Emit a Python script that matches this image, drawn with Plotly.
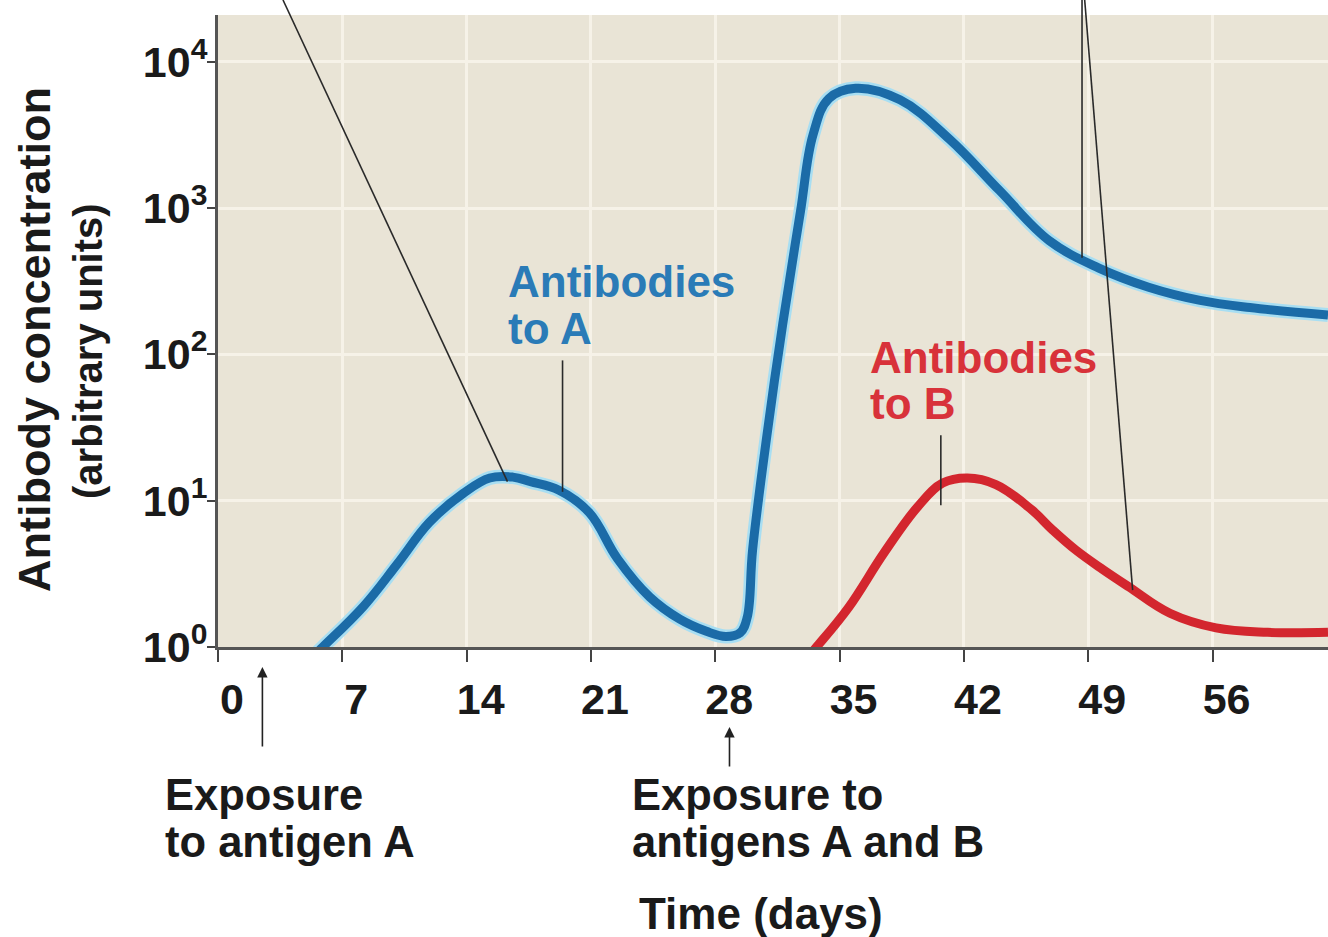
import math
import plotly.graph_objects as go

# ---- data: antibody concentration (arbitrary units) vs time (days) ----
days_a = [5.3, 5.9, 8.2, 10.1, 11.9, 13.8, 15.3, 16.6, 17.6, 19.2, 20.9, 22.5, 24.3,
          26.0, 27.5, 28.6, 29.4, 29.8, 30.1, 30.9, 31.8, 32.8, 33.5, 34.4, 35.9,
          38.4, 41.2, 44.0, 46.8, 49.6, 52.4, 55.3, 58.1, 62.5]
conc_a = [0.85, 1.0, 1.9, 3.7, 7.1, 11.2, 14.3, 14.5, 13.5, 11.8, 8.3, 4.0, 2.2,
          1.55, 1.28, 1.18, 1.25, 1.6, 4.6, 27.5, 162, 955, 3160, 5620, 6600,
          5500, 2950, 1320, 600, 389, 288, 234, 209, 186]

days_b = [33.2, 33.7, 35.5, 37.5, 39.4, 40.8, 42.2, 43.8, 45.8, 47.0, 48.3, 49.8,
          51.3, 53.6, 56.2, 59.1, 62.5]
conc_b = [0.85, 1.0, 1.86, 4.4, 9.1, 13.2, 14.3, 12.9, 8.7, 6.3, 4.6, 3.4,
          2.57, 1.7, 1.35, 1.26, 1.26]

x_ticks = [0, 7, 14, 21, 28, 35, 42, 49, 56]
y_ticks = [1, 10, 100, 1000, 10000]
y_ticktext = ["10<sup>0</sup>", "10<sup>1</sup>", "10<sup>2</sup>",
              "10<sup>3</sup>", "10<sup>4</sup>"]

# exposure days and callout targets (day, concentration)
exposure_days = [2.5, 28.8]
callouts = [
    # ((top day, top level or None for the page edge), (target day, target conc))
    ((3.66, None), (16.3, 13.5)),
    ((19.4, 91.0), (19.4, 11.5)),
    ((48.65, None), (48.65, 457)),
    ((48.8, None), (51.5, 2.45)),
    ((40.7, 28.0), (40.7, 9.3)),
]

# ---- layout geometry ----
W, H = 1328, 937
ML, MR, MT, MB = 218, 0, 15, 290
PW, PH = W - ML - MR, H - MT - MB
X_MAX = 62.5
LOG_MAX = 4.32

FONT = "Liberation Sans, Arial, sans-serif"
BLUE = "#1b6ba7"
BLUE_TXT = "#2a7bb7"
RED = "#d3262e"
RED_TXT = "#d8323a"
INK = "#1a1a1a"


def px_x(p):
    return (p - ML) / PW


def px_y(p):
    return (H - MB - p) / PH


def day_x(d):
    return d / X_MAX


def val_y(v):
    return math.log10(v) / LOG_MAX


fig = go.Figure()

line_shape = dict(shape="spline", smoothing=1.1)

# soft light edge round the blue curve, then the curves
fig.add_trace(go.Scatter(x=days_a, y=conc_a, mode="lines",
                         line=dict(color="#a8def2", width=14, **line_shape),
                         hoverinfo="skip", showlegend=False))
fig.add_trace(go.Scatter(x=days_a, y=conc_a, mode="lines",
                         line=dict(color=BLUE, width=9, **line_shape),
                         name="Antibodies to A", showlegend=False))
fig.add_trace(go.Scatter(x=days_b, y=conc_b, mode="lines",
                         line=dict(color=RED, width=9, **line_shape),
                         name="Antibodies to B", showlegend=False))

# callout lines
shapes = []
top_y = px_y(0)
for (tday, tlev), (dday, dval) in callouts:
    y0 = top_y if tlev is None else val_y(tlev)
    shapes.append(dict(type="line", xref="paper", yref="paper",
                       x0=day_x(tday), y0=y0, x1=day_x(dday), y1=val_y(dval),
                       line=dict(color="#2a2a2a", width=1.6), layer="above"))

annotations = []


def label(text, x, y, size, color=INK, xanchor="left", angle=0):
    annotations.append(dict(text=text, x=x, y=y, xref="paper", yref="paper",
                            xanchor=xanchor, yanchor="middle", showarrow=False,
                            textangle=angle,
                            font=dict(family=FONT, size=size, color=color, weight="bold")))


# curve labels
label("Antibodies", px_x(506), px_y(281), 44, BLUE_TXT)
label("to A", px_x(506), px_y(328), 44, BLUE_TXT)
label("Antibodies", px_x(868), px_y(357), 44, RED_TXT)
label("to B", px_x(868), px_y(404), 44, RED_TXT)

# exposure notes
label("Exposure", px_x(163), px_y(795), 43.5)
label("to antigen A", px_x(163), px_y(842), 43.5)
label("Exposure to", px_x(630), px_y(795), 43.5)
label("antigens A and B", px_x(630), px_y(842), 43.5)

# axis titles
label("Time (days)", px_x(761), px_y(913), 44, xanchor="center")
label("Antibody concentration", px_x(34), px_y(340), 45, xanchor="center", angle=-90)
label("(arbitrary units)", px_x(88), px_y(351), 40, xanchor="center", angle=-90)

# exposure arrows
for d, tip, tail in zip(exposure_days, [667, 727], [748, 768]):
    annotations.append(dict(text="", x=day_x(d), y=px_y(tip), xref="paper", yref="paper",
                            ax=0, ay=tail - tip, axref="pixel", ayref="pixel",
                            showarrow=True, arrowhead=2, arrowsize=1.3, arrowwidth=1.6,
                            arrowcolor="#222222"))

fig.update_layout(
    width=W, height=H,
    margin=dict(l=ML, r=MR, t=MT, b=MB, pad=0),
    paper_bgcolor="white",
    plot_bgcolor="#e9e4d6",
    shapes=shapes,
    annotations=annotations,
    showlegend=False,
    xaxis=dict(range=[0, X_MAX], tickvals=x_ticks, ticktext=[str(t) for t in x_ticks],
               showgrid=True, gridcolor="#f6f2e8", gridwidth=3,
               showline=True, linecolor="#555555", linewidth=3,
               ticks="outside", ticklen=12, tickwidth=2, tickcolor="#444444",
               ticklabelshift=14, ticklabelstandoff=0,
               tickfont=dict(family=FONT, size=43, color=INK, weight="bold"),
               zeroline=False, fixedrange=True),
    yaxis=dict(type="log", range=[0, LOG_MAX], tickvals=y_ticks, ticktext=y_ticktext,
               showgrid=True, gridcolor="#f6f2e8", gridwidth=3,
               showline=True, linecolor="#555555", linewidth=3,
               ticks="outside", ticklen=8, tickwidth=2, tickcolor="#444444",
               ticklabelstandoff=-9,
               tickfont=dict(family=FONT, size=43, color=INK, weight="bold"),
               zeroline=False, fixedrange=True),
)

fig.write_html("out.html")
